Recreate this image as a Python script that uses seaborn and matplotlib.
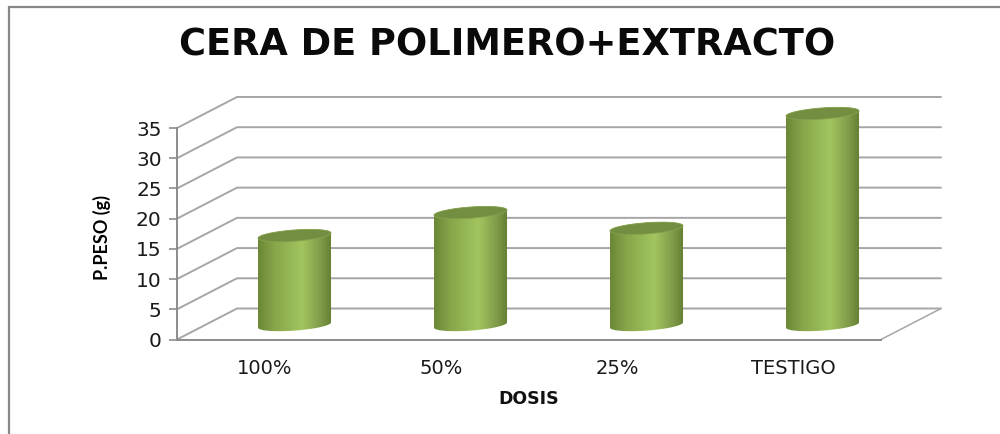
import numpy as np
import pandas as pd
import matplotlib
matplotlib.use("Agg")
import matplotlib.pyplot as plt
from matplotlib.colors import LinearSegmentedColormap
from matplotlib.patches import Polygon, Rectangle
from matplotlib.transforms import Affine2D
import seaborn as sns

categories = ["100%", "50%", "25%", "TESTIGO"]
peso = [14.8, 18.6, 16.0, 35.0]
yticks = [0, 5, 10, 15, 20, 25, 30, 35]

title = "CERA DE POLIMERO+EXTRACTO"
xlabel = "DOSIS"
ylabel = "P.PESO (g)"

W, H = 1000, 434
sns.set_theme(style="white")
plt.rcParams["font.family"] = ["DejaVu Sans"]
fig = plt.figure(figsize=(W / 100, H / 100), dpi=100)
ax = fig.add_axes([177 / W, 1 - 339.5 / H, 704 / W, 211.5 / H])

df = pd.DataFrame({"dosis": categories, "peso": peso})
sns.barplot(data=df, x="dosis", y="peso", width=0.415, color="#9bbb59", ax=ax, zorder=3)
ax.set_xlim(-0.5, 3.5)
ax.set_ylim(0, 35)
ax.set_yticks(yticks)

# depth of the pseudo-3D box, in data units
px_y = 211.5 / 35
depth_x, depth_y = 60 / 176, 31 / px_y
shift = Affine2D().translate(29.5 / 176, 14.5 / px_y) + ax.transData

grid = "#a6a6a6"
for v in yticks:
    ax.plot([-0.5, -0.5 + depth_x, 3.5 + depth_x], [v, v + depth_y, v + depth_y],
            color=grid, lw=1.4, clip_on=False, zorder=1, solid_joinstyle="miter")
ax.plot([3.5, 3.5 + depth_x], [0, depth_y], color=grid, lw=1.1, clip_on=False, zorder=1)

cmap = LinearSegmentedColormap.from_list(
    "cyl", [(0, "#6b8636"), (0.22, "#87a54a"), (0.6, "#a2c55f"), (0.85, "#809b49"), (1, "#647e33")])
grad = np.linspace(0, 1, 256).reshape(1, -1)
t = np.linspace(0, 2 * np.pi, 90)
b = 5.6 / px_y
tilt = 2.6 / px_y

for bar in list(ax.patches):
    x0, w, h = bar.get_x(), bar.get_width(), bar.get_height()
    bar.set_visible(False)
    cx, a = x0 + w / 2, w / 2
    lower = np.linspace(np.pi, 2 * np.pi, 45)
    upper = np.linspace(0, np.pi, 45)
    xs = np.r_[cx + a * np.cos(lower), cx + a * np.cos(upper)]
    ys = np.r_[b * np.sin(lower) + tilt * np.cos(lower), h + b * np.sin(upper) + tilt * np.cos(upper)]
    body = Polygon(np.c_[xs, ys], closed=True, transform=shift, facecolor="none", edgecolor="none")
    ax.add_patch(body)
    body.set_clip_on(False)
    im = ax.imshow(grad, extent=[x0, x0 + w, -3, h + 3], cmap=cmap, aspect="auto",
                   transform=shift, zorder=3, interpolation="bilinear")
    im.set_clip_box(fig.bbox)
    im.set_clip_path(body)
    top = Polygon(np.c_[cx + a * np.cos(t), h + b * np.sin(t) + tilt * np.cos(t)], closed=True,
                  transform=shift, facecolor="#748e41", edgecolor="#86a24e", lw=0.6, zorder=4, clip_on=False)
    ax.add_patch(top)
ax.set_xlim(-0.5, 3.5)
ax.set_ylim(0, 35)

for s in ["top", "right"]:
    ax.spines[s].set_visible(False)
for s in ["left", "bottom"]:
    ax.spines[s].set_color("#8c8c8c")
    ax.spines[s].set_linewidth(1.4)
ax.patch.set_alpha(0)
ax.tick_params(axis="y", left=True, length=6, width=1.2, color="#8c8c8c", labelsize=14.5, pad=5, labelcolor="#1a1a1a")
ax.tick_params(axis="x", bottom=False, labelsize=14, pad=8, labelcolor="#1a1a1a")
ax.set_xlabel(xlabel, fontsize=12.5, fontweight="bold", labelpad=9, color="#111111")
ax.set_ylabel("")
fig.text(102 / W, 1 - 237 / H, ylabel, rotation=90, ha="center", va="center",
         fontsize=13, fontweight="bold", family="Lato", color="#000000")
fig.text(507 / W, 1 - 45 / H, title, ha="center", va="center",
         fontsize=26.5, fontweight="bold", family="DejaVu Sans", color="#0a0a0a")

fig.add_artist(Rectangle((9 / W, -0.01), 1.2, 1 - 7 / H + 0.01, transform=fig.transFigure,
                         facecolor="none", edgecolor="#888888", lw=1.6))
fig.savefig("out.png", dpi=100)
